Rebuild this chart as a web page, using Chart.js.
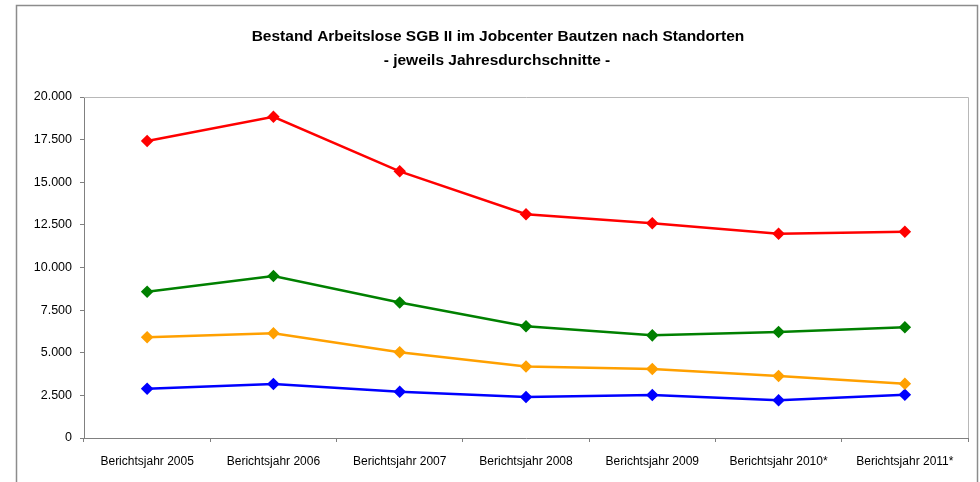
<!DOCTYPE html>
<html>
<head>
<meta charset="utf-8">
<script src="https://cdn.jsdelivr.net/npm/chart.js@4/dist/chart.umd.min.js"></script>
<style>
  html, body { margin: 0; padding: 0; background: #fff; }
  #wrap { width: 980px; height: 482px; }
</style>
</head>
<body>
<div id="wrap"><canvas id="jobChart" width="980" height="482"></canvas></div>
<script>
// Kategorien (Berichtsjahre)
const years = ['Berichtsjahr 2005', 'Berichtsjahr 2006', 'Berichtsjahr 2007', 'Berichtsjahr 2008',
               'Berichtsjahr 2009', 'Berichtsjahr 2010*', 'Berichtsjahr 2011*'];

// Jahresdurchschnitte je Reihe (aus dem Bild geschätzt)
const gesamt    = [17420, 18840, 15640, 13120, 12600, 11980, 12100];
const standortA = [8580, 9500, 7950, 6550, 6020, 6220, 6490];
const standortB = [5910, 6140, 5030, 4190, 4050, 3640, 3180];
const standortC = [2890, 3170, 2710, 2400, 2520, 2210, 2540];

// y-Achse: 0 bis 20.000 in 2.500er Schritten
const yMin = 0;
const yMax = 20000;
const yStep = 2500;

const titleLines = ['Bestand Arbeitslose SGB II im Jobcenter Bautzen nach Standorten',
                    '- jeweils Jahresdurchschnitte -'];

function formatDe(v) {
    return String(v).replace(/\B(?=(\d{3})+(?!\d))/g, '.');
}

function makeSet(label, data, color) {
    return {
        label: label,
        data: data,
        borderColor: color,
        backgroundColor: color,
        borderWidth: 2.5,
        pointStyle: 'rectRot',
        pointRadius: 4.5,
        pointHoverRadius: 4.5,
        tension: 0,
        fill: false
    };
}

// Rahmen, Plotflächenrand oben/rechts und Titel (leicht rechts der Mitte wie im Original)
const framePlugin = {
    id: 'frame',
    beforeDraw(chart) {
        const c = chart.ctx;
        c.save();
        c.fillStyle = '#fff';
        c.fillRect(0, 0, chart.width, chart.height);
        c.strokeStyle = '#8c8c8c';
        c.lineWidth = 1.5;
        c.strokeRect(16.5, 5.5, 961, 520);
        c.restore();
    },
    afterDraw(chart) {
        const a = chart.chartArea;
        const c = chart.ctx;
        c.save();
        c.strokeStyle = '#b8b8b8';
        c.lineWidth = 1;
        c.beginPath();
        c.moveTo(a.left, a.top + 0.5);
        c.lineTo(a.right + 0.5, a.top + 0.5);
        c.lineTo(a.right + 0.5, a.bottom);
        c.stroke();

        c.fillStyle = '#000';
        c.font = 'bold 15.5px "Liberation Sans", Arial, sans-serif';
        c.textAlign = 'center';
        c.textBaseline = 'middle';
        c.fillText(titleLines[0], 498, 37);
        c.fillText(titleLines[1], 497, 61);
        c.restore();
    }
};

new Chart(document.getElementById('jobChart'), {
    type: 'line',
    data: {
        labels: years,
        datasets: [
            makeSet('Gesamt', gesamt, '#ff0000'),
            makeSet('Standort A', standortA, '#008000'),
            makeSet('Standort B', standortB, '#ffa000'),
            makeSet('Standort C', standortC, '#0000ff')
        ]
    },
    options: {
        responsive: false,
        animation: false,
        devicePixelRatio: 1,
        layout: { padding: { left: 0, right: 12, top: 97, bottom: 0 } },
        plugins: {
            legend: { display: false },
            tooltip: { enabled: false },
            title: { display: false }
        },
        scales: {
            x: {
                offset: true,
                grid: {
                    offset: true,
                    drawOnChartArea: false,
                    drawTicks: true,
                    tickLength: 4,
                    color: '#808080'
                },
                border: { color: '#808080', width: 1 },
                ticks: {
                    color: '#000',
                    padding: 12,
                    maxRotation: 0,
                    autoSkip: false,
                    font: { family: 'Liberation Sans, Arial, sans-serif', size: 12 }
                },
                afterFit(scale) { scale.height = 44; }
            },
            y: {
                min: yMin,
                max: yMax,
                grid: {
                    drawOnChartArea: false,
                    drawTicks: true,
                    tickLength: 4,
                    color: '#808080'
                },
                border: { color: '#808080', width: 1 },
                ticks: {
                    stepSize: yStep,
                    color: '#000',
                    padding: 8,
                    font: { family: 'Liberation Sans, Arial, sans-serif', size: 12.5 },
                    callback: v => formatDe(v)
                },
                afterFit(scale) { scale.width = 84; }
            }
        }
    },
    plugins: [framePlugin]
});
</script>
</body>
</html>
